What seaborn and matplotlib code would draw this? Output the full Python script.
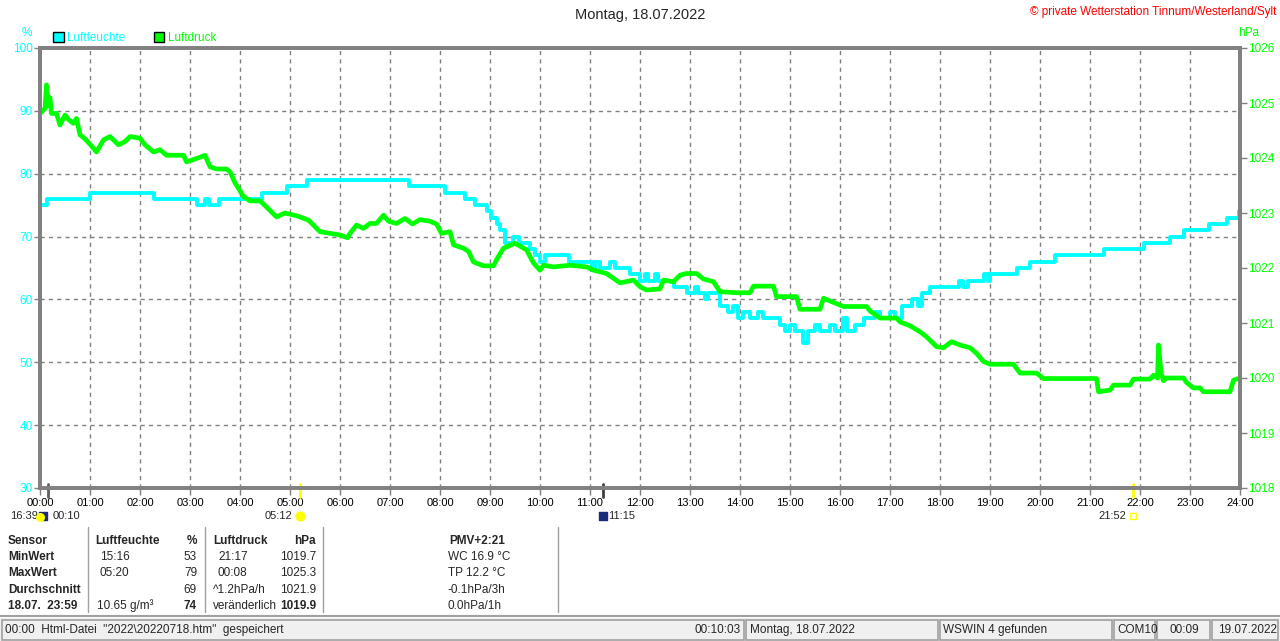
import numpy as np
import pandas as pd
import matplotlib
matplotlib.use('Agg')
import matplotlib.pyplot as plt
from matplotlib.patches import Patch, Rectangle
from matplotlib.lines import Line2D
import seaborn as sns

# data: humidity (%) as steps, time in hours
hum_t = [0, 0.13, 1.0, 2.27, 3.13, 3.3, 3.37, 3.57, 4.43, 4.93, 5.33, 7.37, 8.1, 8.5, 8.7,
         8.93, 9.03, 9.13, 9.2, 9.3, 9.45, 9.57, 9.8, 9.9, 10.0, 10.1, 10.57, 11.03, 11.1,
         11.2, 11.4, 11.5, 11.8, 12.0, 12.1, 12.15, 12.3, 12.35, 12.67, 12.93, 13.1, 13.15,
         13.3, 13.35, 13.6, 13.75, 13.85, 13.95, 14.05, 14.2, 14.35, 14.45, 14.8, 14.9, 15.0,
         15.1, 15.25, 15.35, 15.5, 15.6, 15.8, 15.9, 16.05, 16.15, 16.3, 16.47, 16.7, 16.8,
         17.0, 17.1, 17.23, 17.43, 17.55, 17.63, 17.8, 18.37, 18.45, 18.55, 18.87, 18.95,
         19.0, 19.53, 19.8, 20.3, 21.27, 22.07, 22.6, 22.87, 23.37, 23.73, 23.97, 24.0]
hum_v = [75, 76, 77, 76, 75, 76, 75, 76, 77, 78, 79, 78, 77, 76, 75,
         74, 73, 72, 71, 69, 70, 69, 68, 67, 66, 67, 66, 65, 66,
         65, 66, 65, 64, 63, 64, 63, 64, 63, 62, 61, 62, 61,
         60, 61, 59, 58, 59, 57, 58, 57, 58, 57, 56, 55, 56,
         55, 53, 55, 56, 55, 56, 55, 57, 55, 56, 57, 58, 57,
         58, 57, 59, 60, 59, 61, 62, 63, 62, 63, 64, 63,
         64, 65, 66, 67, 68, 69, 70, 71, 72, 73, 74, 74]

# data: air pressure (hPa)
pres_t = [0, 0.1, 0.13, 0.16, 0.2, 0.23, 0.33, 0.4, 0.5, 0.57, 0.67, 0.73, 0.8, 0.9, 1.0,
          1.13, 1.27, 1.4, 1.57, 1.7, 1.8, 2.0, 2.1, 2.27, 2.4, 2.53, 2.87, 2.93, 3.13, 3.3,
          3.4, 3.53, 3.73, 3.8, 3.9, 4.07, 4.2, 4.4, 4.53, 4.73, 4.9, 5.13, 5.37, 5.6, 5.8,
          6.0, 6.15, 6.2, 6.33, 6.47, 6.6, 6.73, 6.87, 6.97, 7.13, 7.3, 7.45, 7.6, 7.8, 7.93,
          8.03, 8.2, 8.27, 8.47, 8.57, 8.67, 8.87, 9.07, 9.13, 9.27, 9.5, 9.73, 9.87, 10.0,
          10.07, 10.27, 10.6, 10.93, 11.07, 11.33, 11.6, 11.87, 12.0, 12.13, 12.4, 12.47,
          12.67, 12.8, 12.93, 13.13, 13.27, 13.47, 13.6, 13.93, 14.2, 14.27, 14.67, 14.73,
          15.13, 15.2, 15.6, 15.67, 16.07, 16.53, 16.6, 16.8, 17.13, 17.2, 17.4, 17.6, 17.73,
          17.93, 18.07, 18.23, 18.4, 18.6, 18.73, 18.87, 19.0, 19.47, 19.6, 19.93, 20.07,
          21.13, 21.17, 21.4, 21.47, 21.8, 21.87, 22.2, 22.27, 22.35, 22.37, 22.42, 22.47,
          22.53, 22.87, 22.93, 23.07, 23.2, 23.27, 23.8, 23.87, 24.0]
pres_v = [1024.81, 1024.9, 1025.33, 1024.95, 1025.1, 1024.81, 1024.81, 1024.6, 1024.78,
          1024.7, 1024.63, 1024.72, 1024.42, 1024.35, 1024.25, 1024.11, 1024.33, 1024.39,
          1024.24, 1024.3, 1024.39, 1024.36, 1024.24, 1024.11, 1024.15, 1024.05, 1024.05,
          1023.93, 1023.99, 1024.05, 1023.84, 1023.8, 1023.8, 1023.75, 1023.55, 1023.3,
          1023.22, 1023.22, 1023.11, 1022.93, 1023.0, 1022.95, 1022.87, 1022.66, 1022.63,
          1022.6, 1022.55, 1022.63, 1022.78, 1022.72, 1022.81, 1022.81, 1022.96, 1022.85,
          1022.81, 1022.9, 1022.8, 1022.88, 1022.85, 1022.8, 1022.63, 1022.66, 1022.42,
          1022.36, 1022.3, 1022.11, 1022.04, 1022.04, 1022.15, 1022.36, 1022.45, 1022.33,
          1022.09, 1021.96, 1022.05, 1022.02, 1022.05, 1022.02, 1021.96, 1021.9, 1021.73,
          1021.78, 1021.66, 1021.6, 1021.62, 1021.78, 1021.75, 1021.87, 1021.9, 1021.9,
          1021.8, 1021.75, 1021.57, 1021.55, 1021.55, 1021.67, 1021.67, 1021.48, 1021.48,
          1021.25, 1021.25, 1021.45, 1021.3, 1021.3, 1021.22, 1021.09, 1021.09, 1021.02,
          1020.95, 1020.84, 1020.75, 1020.57, 1020.55, 1020.66, 1020.6, 1020.55, 1020.45,
          1020.3, 1020.25, 1020.25, 1020.09, 1020.09, 1019.99, 1019.99, 1019.75, 1019.78,
          1019.87, 1019.87, 1019.98, 1019.98, 1020.05, 1020.0, 1020.6, 1020.1, 1019.95,
          1020.0, 1020.0, 1019.92, 1019.82, 1019.82, 1019.75, 1019.75, 1019.96, 1020.0]

hour_labels = [f'{h:02d}:00' for h in range(25)]
hum_ticks = list(range(30, 101, 10))
pres_ticks = list(range(1018, 1027))

# table below the chart
tbl_rows = ['Sensor', 'MinWert', 'MaxWert', 'Durchschnitt', '18.07.  23:59']
hum_time = ['Luftfeuchte', '15:16', '05:20', '', '10.65 g/m³']
hum_val = ['%', '53', '79', '69', '74']
pres_time = ['Luftdruck', '21:17', '00:08', '^1.2hPa/h', 'veränderlich']
pres_val = ['hPa', '1019.7', '1025.3', '1021.9', '1019.9']
extra = ['PMV+2:21', 'WC 16.9 °C', 'TP 12.2 °C', '-0.1hPa/3h', '0.0hPa/1h']

CYAN = '#00ffff'
GREEN = '#00ff00'
GRAY = '#808080'

sns.set_style('white')
plt.rcParams['font.family'] = ['Liberation Sans', 'DejaVu Sans']
FS = 8.5
FT = 8

W, H = 1280, 641
fig = plt.figure(figsize=(W / 100, H / 100), dpi=100)


def fx(x):
    return x / W


def fy(y):
    return 1 - y / H


ax = fig.add_axes([fx(40), fy(488), 1200 / W, 440 / H])
hum_df = pd.DataFrame({'t': hum_t, 'v': hum_v})
pres_df = pd.DataFrame({'t': pres_t, 'v': pres_v})

sns.lineplot(data=hum_df, x='t', y='v', ax=ax, color=CYAN, lw=2.8,
             drawstyle='steps-post', estimator=None, sort=False)
ax2 = ax.twinx()
sns.lineplot(data=pres_df, x='t', y='v', ax=ax2, color=GREEN, lw=3.4,
             estimator=None, sort=False)

ax.set_xlim(0, 24)
ax.set_ylim(30, 100)
ax2.set_ylim(1018, 1026)
ax.set_xticks(range(25))
ax.set_xticklabels(hour_labels)
ax.set_yticks(hum_ticks)
ax2.set_yticks(pres_ticks)
ax.set_xlabel('')
ax.set_ylabel('')
ax2.set_ylabel('')
ax.grid(True, ls=(0, (3, 3)), color=GRAY, lw=1)
ax2.grid(False)
for a in (ax, ax2):
    for s in a.spines.values():
        s.set_color(GRAY)
        s.set_linewidth(2.6)
ax.tick_params(axis='y', labelcolor=CYAN, color=GRAY, length=4, width=1,
               pad=1, labelsize=FS, left=True)
ax.tick_params(axis='x', labelcolor='black', color=GRAY, length=5, width=1,
               pad=2, labelsize=FT, bottom=True)
ax2.tick_params(axis='y', labelcolor=GREEN, color=GRAY, length=5, width=1,
                pad=1, labelsize=FS, right=True)

# legend and axis units
handles = [Patch(facecolor=CYAN, edgecolor='black', lw=1, label='Luftfeuchte'),
           Patch(facecolor=GREEN, edgecolor='black', lw=1, label='Luftdruck')]
ax.legend(handles=handles, loc='lower left', bbox_to_anchor=(0.006, 0.995), ncol=2,
          frameon=False, handlelength=0.9, handleheight=0.9, handletextpad=0.3,
          columnspacing=2.4, fontsize=FS, labelcolor=[CYAN, GREEN], borderaxespad=0.1)
fig.text(fx(27), fy(33), '%', color=CYAN, fontsize=FS, ha='center', va='center')
fig.text(fx(1249), fy(33), 'hPa', color=GREEN, fontsize=FS, ha='center', va='center')
fig.text(fx(640), fy(15), 'Montag, 18.07.2022', fontsize=10.5, ha='center', va='center')
fig.text(fx(1276), fy(12), '© private Wetterstation Tinnum/Westerland/Sylt',
         color='red', fontsize=FS, ha='right', va='center')

# sun / moon markers under the time axis
tr = ax.get_xaxis_transform()
ylab = (488 - 516) / 440
for t, c in [(10 / 60, '#606060'), (5.2, '#ffff00'), (11.25, '#404040'), (21 + 52 / 60, '#ffff00')]:
    ax.plot([t, t], [0.01, -0.02], color=c, lw=2, transform=tr, clip_on=False)
ax.text(-0.04, ylab, '16:39', transform=tr, fontsize=FT, ha='right', va='center')
ax.scatter([0.05], [ylab], s=40, marker='s', color='#1c2a7a', transform=tr, clip_on=False, zorder=5)
ax.scatter([0.0], [ylab - 0.003], s=30, marker='o', color='#ffff00', transform=tr, clip_on=False, zorder=6)
ax.text(0.25, ylab, '00:10', transform=tr, fontsize=FT, ha='left', va='center')
ax.text(5.05, ylab, '05:12', transform=tr, fontsize=FT, ha='right', va='center')
ax.scatter([5.2], [ylab], s=40, marker='o', color='#ffff00', transform=tr, clip_on=False, zorder=5)
ax.scatter([11.25], [ylab], s=40, marker='s', color='#1c2a7a', transform=tr, clip_on=False, zorder=5)
ax.text(11.37, ylab, '11:15', transform=tr, fontsize=FT, ha='left', va='center')
ax.text(21.72, ylab, '21:52', transform=tr, fontsize=FT, ha='right', va='center')
ax.scatter([21 + 52 / 60], [ylab], s=18, marker='s', facecolor='white', edgecolor='#ffff00',
           transform=tr, clip_on=False, zorder=5)

# table
row_y = [541, 557, 573, 590, 606]
for i, y in enumerate(row_y):
    hdr = i == 0
    fig.text(fx(8), fy(y), tbl_rows[i], fontsize=FS, weight='bold', va='center')
    fig.text(fx(95 if i == 0 else 100 if i < 3 else 97), fy(y), hum_time[i],
             fontsize=FS, weight='bold' if hdr else 'normal', va='center')
    fig.text(fx(197), fy(y), hum_val[i], fontsize=FS, ha='right', va='center',
             weight='bold' if i in (0, 4) else 'normal')
    fig.text(fx(213 if i in (0, 3, 4) else 218), fy(y), pres_time[i],
             fontsize=FS, weight='bold' if hdr else 'normal', va='center')
    fig.text(fx(316), fy(y), pres_val[i], fontsize=FS, ha='right', va='center',
             weight='bold' if i in (0, 4) else 'normal')
    fig.text(fx(448 if i else 477), fy(y), extra[i], fontsize=FS, va='center',
             ha='center' if hdr else 'left', weight='bold' if hdr else 'normal')
for x in [88, 205, 323, 558]:
    fig.add_artist(Line2D([fx(x), fx(x)], [fy(527), fy(612)], color='#a0a0a0', lw=1))
fig.add_artist(Line2D([0, 1], [fy(616), fy(616)], color='#a0a0a0', lw=1.5))

# status bar
fig.add_artist(Rectangle((0, 0), 1, fy(618), facecolor='#f0f0f0', edgecolor='none'))
panels = [(2, 744), (746, 938), (940, 1112), (1114, 1155), (1157, 1210), (1212, 1278)]
for x0, x1 in panels:
    fig.add_artist(Rectangle((fx(x0), fy(640)), fx(x1 - x0), 20 / H, facecolor='#f0f0f0',
                             edgecolor='#a0a0a0', lw=1.2))
sy = fy(630)
fig.text(fx(5), sy, '00:00  Html-Datei  "2022\\20220718.htm"  gespeichert', fontsize=FS, va='center')
fig.text(fx(741), sy, '00:10:03', fontsize=FS, va='center', ha='right')
fig.text(fx(750), sy, 'Montag, 18.07.2022', fontsize=FS, va='center')
fig.text(fx(943), sy, 'WSWIN 4 gefunden', fontsize=FS, va='center')
fig.text(fx(1117), sy, 'COM10', fontsize=FS, va='center')
fig.text(fx(1184), sy, '00:09', fontsize=FS, va='center', ha='center')
fig.text(fx(1218), sy, '19.07.2022', fontsize=FS, va='center')

fig.savefig('out.png', dpi=100, facecolor='white')
